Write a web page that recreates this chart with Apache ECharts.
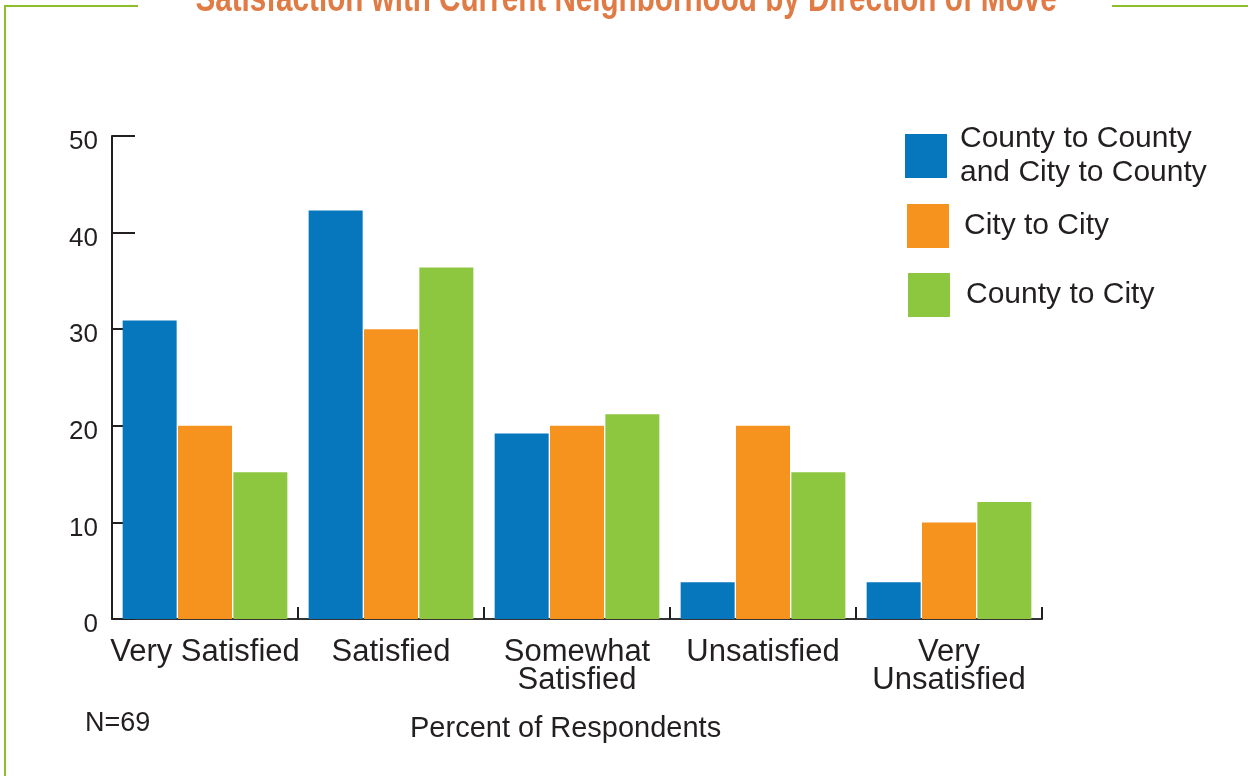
<!DOCTYPE html>
<html>
<head>
<meta charset="utf-8">
<script src="https://cdn.jsdelivr.net/npm/echarts@6/dist/echarts.min.js"></script>
<style>
html,body{margin:0;padding:0;background:#fff;}
#chart{width:1248px;height:776px;}
</style>
</head>
<body>
<div id="chart"></div>
<script>
const categories = ['Very Satisfied', 'Satisfied', 'Somewhat\nSatisfied', 'Unsatisfied', 'Very\nUnsatisfied'];
const seriesNames = ['County to County\nand City to County', 'City to City', 'County to City'];
const countyCountyValues = [30.9, 42.3, 19.2, 3.8, 3.8];
const cityCityValues = [20.0, 30.0, 20.0, 20.0, 10.0];
const countyCityValues = [15.2, 36.4, 21.2, 15.2, 12.1];
const yTicks = [0, 10, 20, 30, 40, 50];
const colors = ['#0676bd', '#f6921e', '#8dc63f'];
const txt = '#231f20';
const font = 'Liberation Sans, Arial, Helvetica, sans-serif';
const titleText = 'Satisfaction with Current Neighborhood by Direction of Move';

const chart = echarts.init(document.getElementById('chart'), null, {renderer: 'canvas'});

function legendAt(name, left, top, padTop, padLeft) {
  return {
    data: [name], orient: 'vertical', left: left, top: top, padding: 0,
    itemWidth: 42, itemHeight: 44, itemGap: 0,
    icon: 'rect', selectedMode: false,
    textStyle: {fontFamily: font, fontSize: 30, color: txt, lineHeight: 34, padding: [padTop, 0, 0, padLeft]}
  };
}

const option = {
  backgroundColor: '#fff',
  animation: false,
  title: [{
    text: 'N=69', left: 85, top: 710, padding: 0,
    textStyle: {fontFamily: font, fontWeight: 'normal', fontSize: 27, color: txt}
  }, {
    text: 'Percent of Respondents', left: 410, top: 714, padding: 0,
    textStyle: {fontFamily: font, fontWeight: 'normal', fontSize: 29, color: txt}
  }],
  legend: [
    legendAt(seriesNames[0], 905, 119, 6, 8),
    legendAt(seriesNames[1], 907, 204, 8, 10),
    legendAt(seriesNames[2], 908, 273, 4, 11)
  ],
  grid: {left: 112, right: 206, top: 136, bottom: 157, containLabel: false},
  xAxis: {
    type: 'category', data: categories,
    axisLine: {lineStyle: {color: '#333', width: 2}},
    axisTick: {show: true, inside: true, length: 12, lineStyle: {color: '#231f20', width: 2}},
    axisLabel: {fontFamily: font, fontSize: 31, color: txt, lineHeight: 28, margin: 19, interval: 0}
  },
  yAxis: {
    type: 'value', min: 0, max: 50, interval: 10,
    axisLine: {show: true, lineStyle: {color: '#231f20', width: 2}},
    axisTick: {show: true, inside: true, length: 23, lineStyle: {color: '#231f20', width: 2}},
    splitLine: {show: false},
    axisLabel: {color: txt, margin: 14,
      formatter: function (v) { return yTicks.indexOf(v) >= 0 ? '{n|' + v + '}' : ''; },
      rich: {n: {fontFamily: font, fontSize: 26, color: txt, padding: [12, 0, 0, 0]}}}
  },
  series: [
    {name: seriesNames[0], type: 'bar', data: countyCountyValues, barWidth: 54, barGap: '2.5%', itemStyle: {color: colors[0]}},
    {name: seriesNames[1], type: 'bar', data: cityCityValues, barWidth: 54, barGap: '2.5%', itemStyle: {color: colors[1]}},
    {name: seriesNames[2], type: 'bar', data: countyCityValues, barWidth: 54, barGap: '2.5%', itemStyle: {color: colors[2]}}
  ],
  graphic: [
    {type: 'text', silent: true, x: 626, y: 20, scaleX: 0.78, scaleY: 1,
      style: {text: titleText, fill: '#e07b45', font: 'bold 38px "Liberation Sans", Arial, sans-serif', textAlign: 'center', textVerticalAlign: 'bottom', verticalAlign: 'bottom'}},
    {type: 'polyline', silent: true, shape: {points: [[5, 776], [5, 6], [138, 6]]}, style: {stroke: '#8dbf2a', lineWidth: 2, fill: null}},
    {type: 'line', silent: true, shape: {x1: 1112, y1: 6, x2: 1248, y2: 6}, style: {stroke: '#8dbf2a', lineWidth: 2}}
  ]
};
chart.setOption(option);
</script>
</body>
</html>
